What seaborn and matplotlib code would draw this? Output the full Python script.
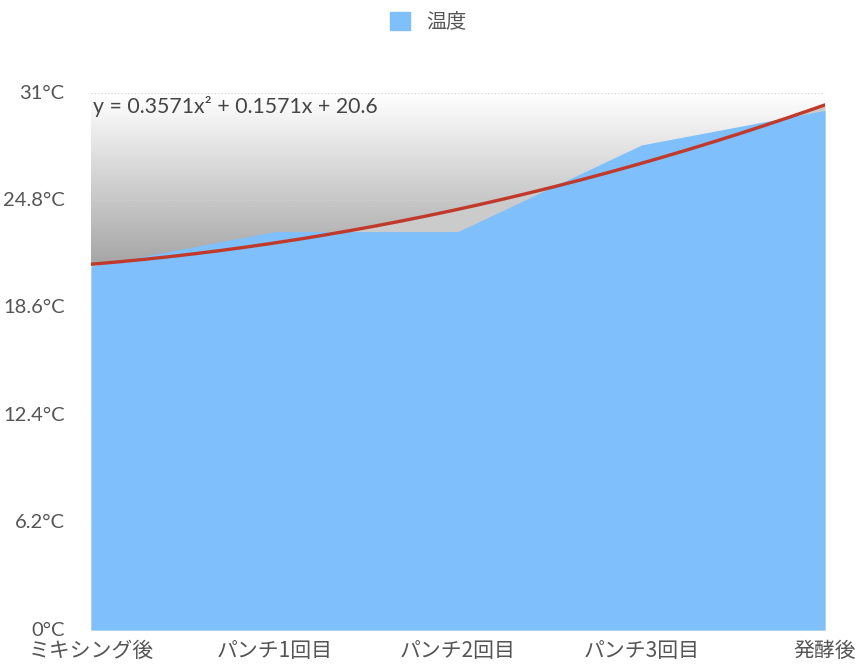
import numpy as np
import pandas as pd
import matplotlib
matplotlib.use("Agg")
import matplotlib.pyplot as plt
import seaborn as sns
from matplotlib.patches import Patch, Polygon
from matplotlib.colors import LinearSegmentedColormap

# ---- data ----
categories = ["ミキシング後", "パンチ1回目", "パンチ2回目", "パンチ3回目", "発酵後"]
temps = [21, 23, 23, 28, 30]
series_name = "温度"
y_ticks = [0, 6.2, 12.4, 18.6, 24.8, 31]
y_tick_labels = ["0°C", "6.2°C", "12.4°C", "18.6°C", "24.8°C", "31°C"]

BLUE = "#7fbffb"
RED = "#c0392b"
TEXT = "#555555"

sns.set_theme(style="white")
CJK = ["Noto Sans CJK JP", "DejaVu Sans"]
LAT = ["Lato", "Noto Sans CJK JP", "DejaVu Sans"]
plt.rcParams["font.family"] = CJK

df = pd.DataFrame({"pos": np.arange(len(categories)), "temp": temps})

# polynomial trend (order 2) fitted on x = 1..n
xn = np.arange(1, len(temps) + 1)
coef = np.polyfit(xn, temps, 2)
xs = np.linspace(1, len(temps), 200)
trend = pd.DataFrame({"pos": xs - 1, "fit": np.polyval(coef, xs)})

fig = plt.figure(figsize=(8.57, 6.70), dpi=100)
ax = fig.add_axes([91 / 857, 40 / 670, (825 - 91) / 857, (630 - 93) / 670])
ax.set_xlim(0, len(categories) - 1)
ax.set_ylim(0, 31)

# gradient background above the trend line
cmap = LinearSegmentedColormap.from_list("g", [(0, "#8f8f8f"), (21 / 31, "#a4a4a4"), (1, "#ffffff")])
grad = np.linspace(0, 1, 400).reshape(-1, 1)
im = ax.imshow(grad, extent=[0, len(categories) - 1, 0, 31], origin="lower",
               aspect="auto", cmap=cmap, zorder=0.1, interpolation="bicubic")
poly_pts = np.vstack([np.column_stack([trend["pos"], trend["fit"]]),
                      [[len(categories) - 1, 31], [0, 31]]])
clip = Polygon(poly_pts, closed=True, transform=ax.transData, facecolor="none", edgecolor="none")
ax.add_patch(clip)
im.set_clip_path(clip)

# light gray below the trend line
ax.fill_between(trend["pos"], 0, trend["fit"], color="#cbcbcb", lw=0, zorder=0.2)

# grid
ax.set_yticks(y_ticks)
ax.set_yticklabels(y_tick_labels, family=LAT)
ax.yaxis.grid(True, color="#cfcfcf", linestyle=(0, (1, 2)), lw=0.8)
ax.xaxis.grid(False)
ax.set_axisbelow(True)
for l in ax.get_ygridlines():
    l.set_zorder(0.3)

# area
ax.fill_between(df["pos"], 0, df["temp"], color=BLUE, lw=0, zorder=1)

# trend line
sns.lineplot(data=trend, x="pos", y="fit", color=RED, lw=2.4, ax=ax, zorder=3)

ax.text(0.01, 30.2, "y = 0.3571x² + 0.1571x + 20.6", fontsize=15.3, color="#444444",
        va="center", ha="left", zorder=4, family=LAT)

ax.set_xticks(df["pos"])
ax.set_xticklabels(categories)
ax.set_xlabel("")
ax.set_ylabel("")
for s in ax.spines.values():
    s.set_visible(False)
ax.tick_params(axis="x", length=0, pad=7, labelsize=15, labelcolor=TEXT)
ax.tick_params(axis="y", length=0, pad=19, labelsize=14.5, labelcolor=TEXT)
for t in ax.get_yticklabels():
    t.set_va("center")

fig.legend(handles=[Patch(color=BLUE)], labels=[series_name], loc="upper center",
           bbox_to_anchor=(0.5, 1.01), frameon=False, fontsize=14.5, handlelength=1.0,
           handleheight=1.0, handletextpad=0.8, labelcolor=TEXT)

fig.savefig("out.png", dpi=100)
